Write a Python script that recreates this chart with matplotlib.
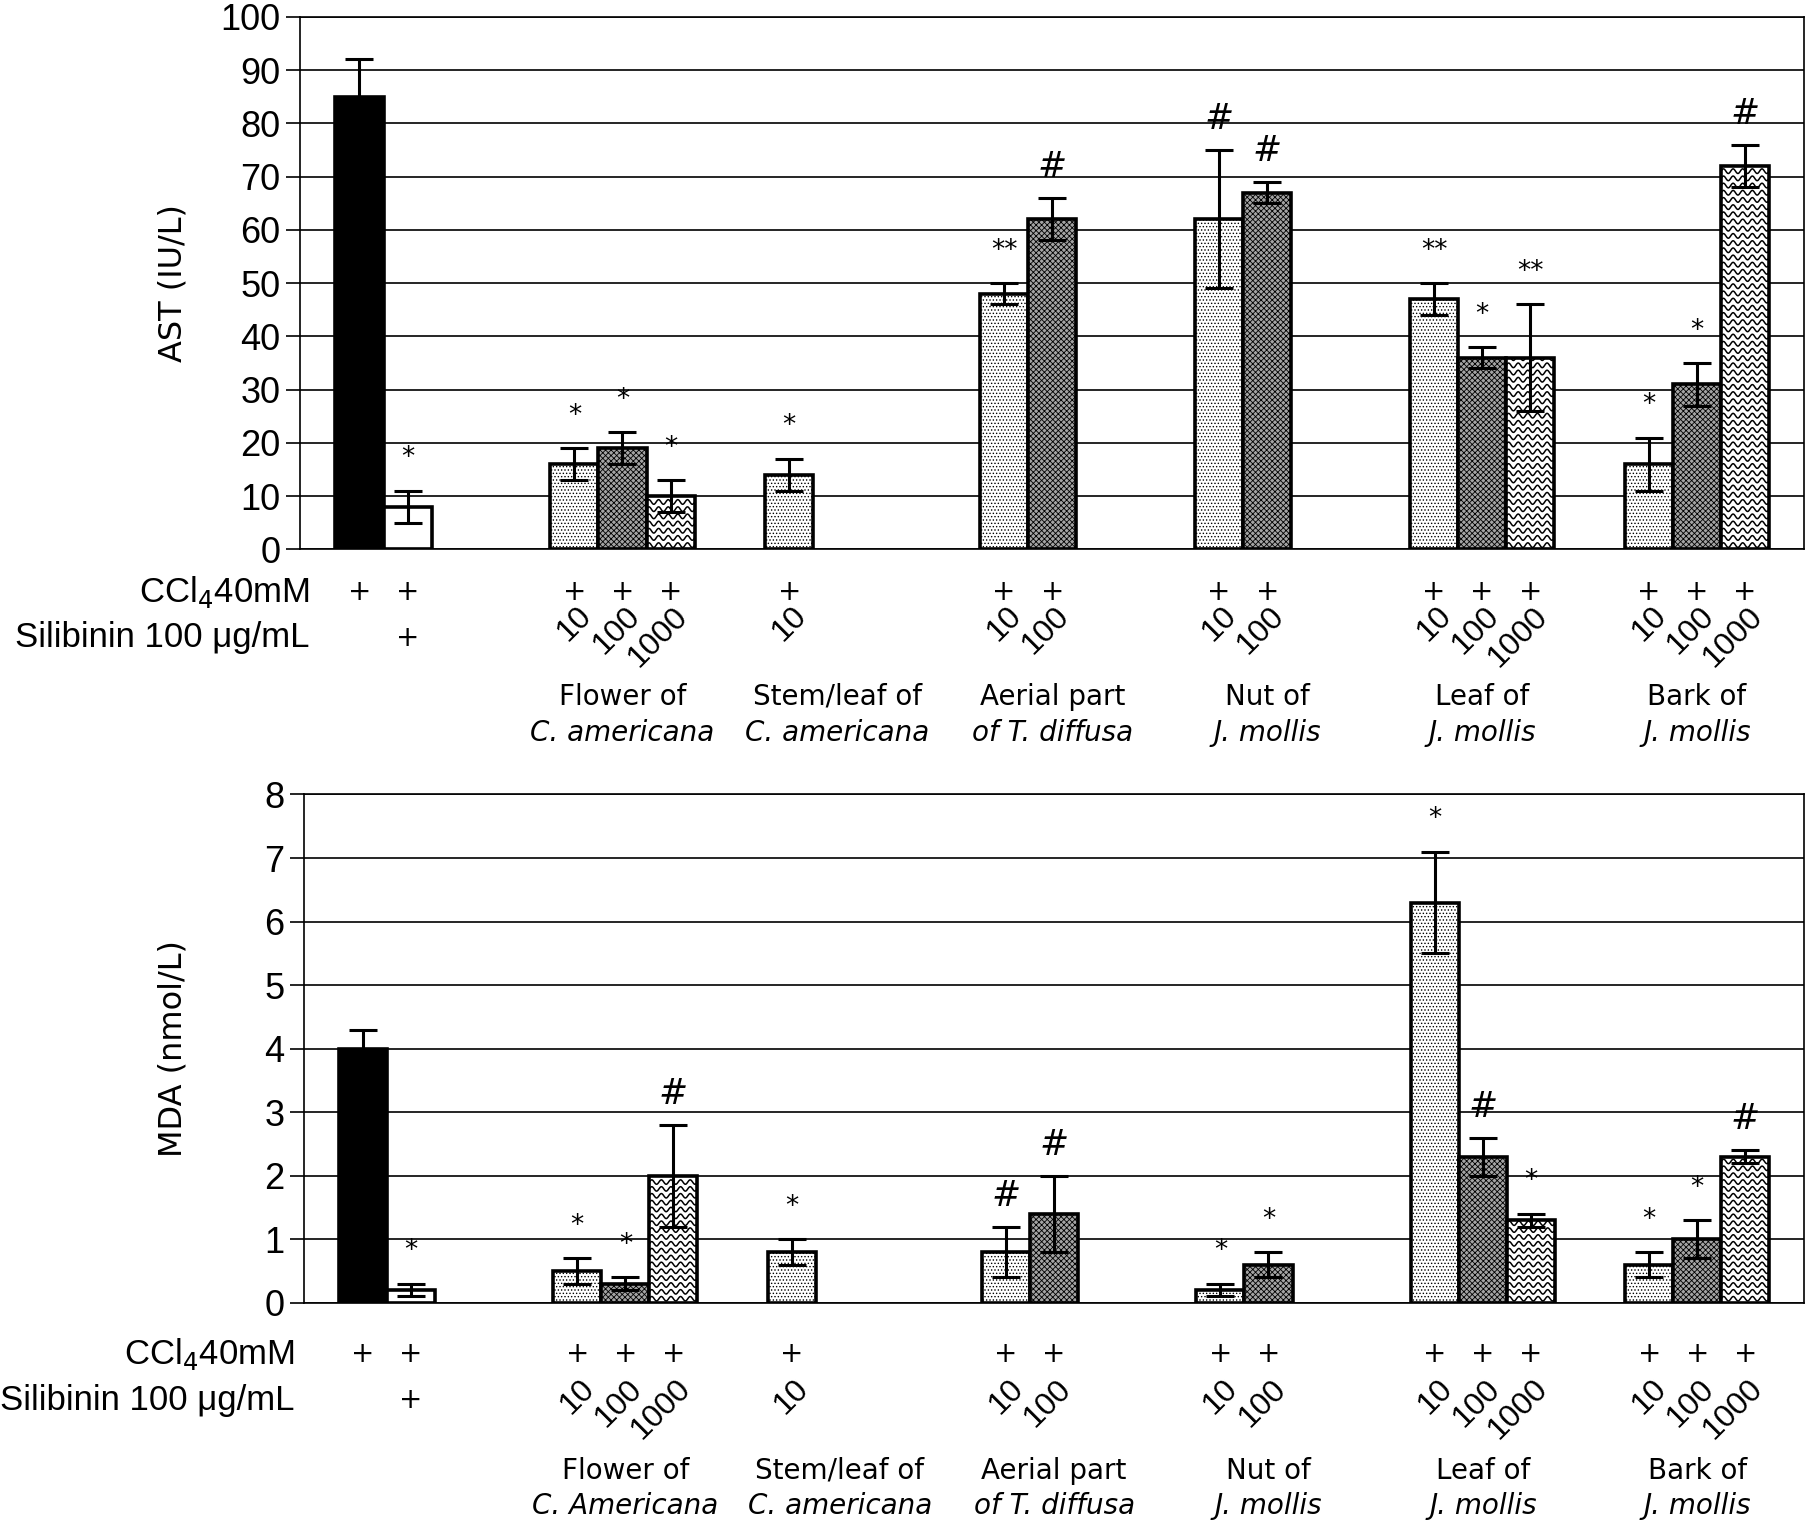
import numpy as np
import matplotlib.pyplot as plt
from matplotlib.collections import LineCollection
from matplotlib.transforms import blended_transform_factory

plt.rcParams['font.family'] = ['DejaVu Sans']
plt.rcParams['hatch.linewidth'] = 0.6
NARROW = ['Liberation Sans Narrow', 'Liberation Sans', 'DejaVu Sans']

# bar layout: group index, slot inside group, dose label
bar_group = [0, 0, 1, 1, 1, 2, 3, 3, 4, 4, 5, 5, 5, 6, 6, 6]
bar_slot = [0, 1, 0, 1, 2, 0, 0, 1, 0, 1, 0, 1, 2, 0, 1, 2]
bar_dose = ['ccl4', 'sil', '10', '100', '1000', '10', '10', '100',
            '10', '100', '10', '100', '1000', '10', '100', '1000']

group_line1 = ['', 'Flower of', 'Stem/leaf of', 'Aerial part', 'Nut of', 'Leaf of', 'Bark of']
group_line2_ast = ['', 'C. americana', 'C. americana', 'of T. diffusa', 'J. mollis', 'J. mollis', 'J. mollis']
group_line2_mda = ['', 'C. Americana', 'C. americana', 'of T. diffusa', 'J. mollis', 'J. mollis', 'J. mollis']

ast_mean = [85, 8, 16, 19, 10, 14, 48, 62, 62, 67, 47, 36, 36, 16, 31, 72]
ast_err = [7, 3, 3, 3, 3, 3, 2, 4, 13, 2, 3, 2, 10, 5, 4, 4]
ast_sig = ['', '*', '*', '*', '*', '*', '**', '#', '#', '#', '**', '*', '**', '*', '*', '#']

mda_mean = [4.0, 0.2, 0.5, 0.3, 2.0, 0.8, 0.8, 1.4, 0.2, 0.6, 6.3, 2.3, 1.3, 0.6, 1.0, 2.3]
mda_err = [0.3, 0.1, 0.2, 0.1, 0.8, 0.2, 0.4, 0.6, 0.1, 0.2, 0.8, 0.3, 0.1, 0.2, 0.3, 0.1]
mda_sig = ['', '*', '*', '*', '#', '*', '#', '#', '*', '*', '*', '#', '*', '*', '*', '#']

styles = {
    'ccl4': dict(color='black', hatch=None),
    'sil': dict(color='white', hatch=None),
    '10': dict(color='white', hatch='.....'),
    '100': dict(color='#a4a4a4', hatch='xxxxxx'),
    '1000': dict(color='white', hatch=None),
}

W = 0.224


def wavy(ax, patch, x0, x1, h, ymax):
    step = ymax * 0.0135
    amp = step * 0.32
    period = (x1 - x0) / 5.0
    xs = np.linspace(x0, x1, 150)
    segs = []
    for y0 in np.arange(step * 0.6, h, step):
        segs.append(np.column_stack([xs, y0 + amp * np.sin(2 * np.pi * (xs - x0) / period)]))
    lc = LineCollection(segs, colors='black', linewidths=1.1, zorder=3.5)
    ax.add_collection(lc)
    lc.set_clip_path(patch)


def draw(ax, mean, err, sig, ymax, ystep, ylabel, line2, rows):
    plus_y, sil_y, dose_y, g1_y, g2_y, lab_x, ylab_x = rows
    x = np.array(bar_group) + (np.array(bar_slot) - 1) * W
    for xi, m, d in zip(x, mean, bar_dose):
        st = styles[d]
        b = ax.bar(xi, m, W, color=st['color'], hatch=st['hatch'],
                   edgecolor='black', linewidth=2.6, zorder=3)
        if d == '1000':
            wavy(ax, b.patches[0], xi - W / 2, xi + W / 2, m, ymax)
    ax.errorbar(x, mean, yerr=err, fmt='none', ecolor='black', elinewidth=2.2,
                capsize=10, capthick=2.2, zorder=5)
    for xi, m, e, s in zip(x, mean, err, sig):
        if not s:
            continue
        if s == '#':
            ax.annotate(s, (xi, m + e), xytext=(0, 10), textcoords='offset points',
                        ha='center', va='bottom', fontsize=25, fontstyle='italic')
        else:
            ax.annotate(s, (xi, m + e), xytext=(0, 14), textcoords='offset points',
                        ha='center', va='bottom', fontsize=19)

    ax.set_xlim(-0.5, 6.5)
    ax.set_ylim(0, ymax)
    ax.set_yticks(np.arange(0, ymax + ystep / 2, ystep))
    ax.set_xticks([])
    ax.yaxis.grid(True, color='black', linewidth=1.2)
    ax.set_axisbelow(True)
    for sp in ax.spines.values():
        sp.set_linewidth(1.2)
    ax.tick_params(axis='y', direction='out', length=10, width=1.2, labelsize=26, pad=4)
    for lab in ax.get_yticklabels():
        lab.set_family(NARROW)
    ax.set_ylabel(ylabel, fontsize=23)
    ax.yaxis.set_label_coords(ylab_x, 0.5)

    tr = blended_transform_factory(ax.transData, ax.transAxes)
    for xi, d in zip(x, bar_dose):
        ax.text(xi, plus_y, '+', transform=tr, ha='center', va='center', fontsize=20)
        if d == 'sil':
            ax.text(xi, sil_y, '+', transform=tr, ha='center', va='center', fontsize=20)
        elif d in ('10', '100', '1000'):
            ax.text(xi + 0.01, dose_y, d, transform=tr, ha='right', va='top',
                    rotation=45, rotation_mode='anchor', fontsize=23, family=NARROW)
    for g in range(7):
        ax.text(g, g1_y, group_line1[g], transform=tr, ha='center', va='center', fontsize=20)
        ax.text(g, g2_y, line2[g], transform=tr, ha='center', va='center', fontsize=20,
                fontstyle='italic')
    ax.text(lab_x, plus_y, r'CCl$_4$40mM', transform=ax.transAxes, ha='right',
            va='center', fontsize=25, family=NARROW)
    ax.text(lab_x, sil_y, 'Silibinin 100 \u03bcg/mL', transform=ax.transAxes, ha='right',
            va='center', fontsize=25, family=NARROW)


fig = plt.figure(figsize=(18.19, 15.22), dpi=100)
ax1 = fig.add_axes([0.165, 0.639, 0.827, 0.350])
ax2 = fig.add_axes([0.167, 0.144, 0.825, 0.334])

draw(ax1, ast_mean, ast_err, ast_sig, 100, 10, 'AST (IU/L)', group_line2_ast,
     (-0.079, -0.166, -0.097, -0.277, -0.345, 0.006, -0.074))
draw(ax2, mda_mean, mda_err, mda_sig, 8, 1, 'MDA (nmol/L)', group_line2_mda,
     (-0.100, -0.192, -0.140, -0.330, -0.400, -0.006, -0.077))

fig.savefig('out.png', dpi=100)
